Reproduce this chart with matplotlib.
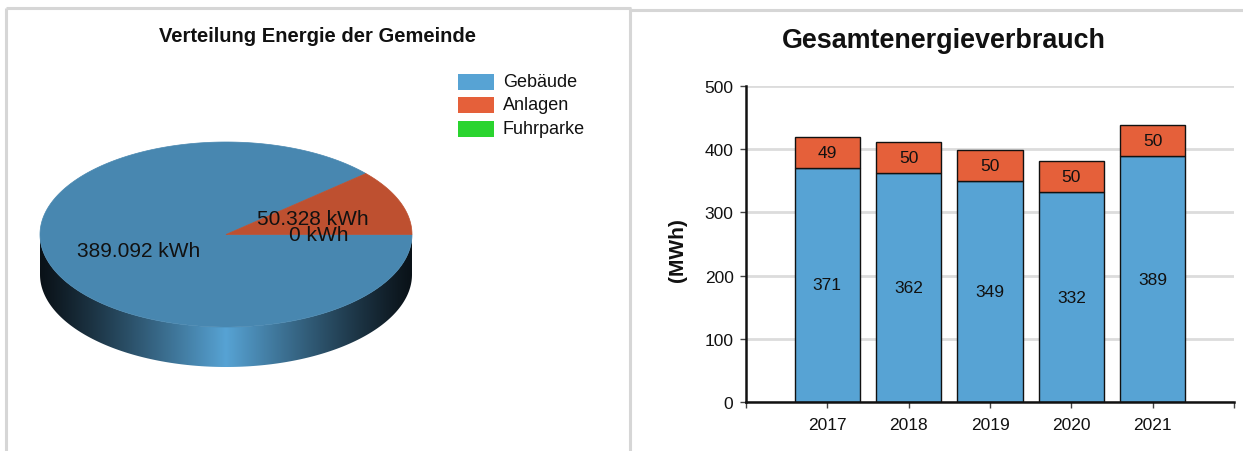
import numpy as np
import matplotlib
matplotlib.use("Agg")
import matplotlib.pyplot as plt
from matplotlib.patches import Polygon, Rectangle
from matplotlib.colors import to_rgb

# ---------------- data ----------------
pie_labels = ["Gebäude", "Anlagen", "Fuhrparke"]
pie_values = [389.092, 50.328, 0.0]
pie_texts = ["389.092 kWh", "50.328 kWh", "0 kWh"]
pie_colors = ["#57a3d4", "#e5603a", "#2ad42f"]

years = ["2017", "2018", "2019", "2020", "2021"]
gebaeude = [371, 362, 349, 332, 389]
anlagen = [49, 50, 50, 50, 50]

W, H = 1243, 452
plt.rcParams['font.family'] = ['Liberation Sans', 'DejaVu Sans']
fig = plt.figure(figsize=(W / 100, H / 100), dpi=100)

# overlay axes in pixel coordinates
ov = fig.add_axes([0, 0, 1, 1])
ov.set_xlim(0, W)
ov.set_ylim(H, 0)
ov.axis('off')

# panel borders
bc = '#d6d6d6'
ov.plot([6, 6], [9, H], color=bc, lw=2.2, solid_capstyle='butt')
ov.plot([6, 631], [9, 9], color=bc, lw=2.2, solid_capstyle='butt')
ov.plot([630.5, 630.5], [9, H], color=bc, lw=2.2, solid_capstyle='butt')
ov.plot([631, W], [10.5, 10.5], color=bc, lw=2.2, solid_capstyle='butt')

# ---------------- 3D pie ----------------
CX, CY, RX, RY, DEPTH = 226, 235.5, 186, 92.5, 40
dark = np.array(to_rgb('#0a1218'))

def ell(t, dy=0.0):
    return CX + RX * np.cos(t), CY - RY * np.sin(t) + dy

total = sum(pie_values)
angles = [0.0]
for v in pie_values:
    angles.append(angles[-1] - 360.0 * v / total)

# sides
for i, c in enumerate(pie_colors):
    a1, a2 = angles[i], angles[i + 1]
    lo, hi = min(a1, a2), max(a1, a2)
    if hi - lo <= 0:
        continue
    base = np.array(to_rgb(c))
    for k in (-1, 0, 1):
        s, e = max(lo, -180 + 360 * k), min(hi, 360 * k)
        if e <= s:
            continue
        t = np.radians(np.linspace(s, e, 200))
        xt, yt = ell(t)
        xb, yb = ell(t[::-1], DEPTH)
        poly = Polygon(np.column_stack([np.r_[xt, xb], np.r_[yt, yb]]),
                       closed=True, facecolor='none', edgecolor='none')
        ov.add_patch(poly)
        u = np.linspace(-1, 1, 600)
        f = np.clip(1 - np.abs(u), 0, 1) ** 1.15
        img = dark[None, :] + (base - dark)[None, :] * f[:, None]
        im = ov.imshow(img[None, :, :], extent=[CX - RX, CX + RX, CY + RY + DEPTH, CY],
                       aspect='auto', interpolation='bilinear', zorder=1)
        im.set_clip_path(poly)

# tops
for i, c in enumerate(pie_colors):
    a1, a2 = angles[i], angles[i + 1]
    if a1 == a2:
        continue
    t = np.radians(np.linspace(a1, a2, 300))
    x, y = ell(t)
    top = np.array(to_rgb(c)) * 0.83
    ov.add_patch(Polygon(np.column_stack([np.r_[CX, x], np.r_[CY, y]]), closed=True,
                         facecolor=top, edgecolor=top, lw=0.5, zorder=2))

# labels
for i, txt in enumerate(pie_texts):
    mid = np.radians((angles[i] + angles[i + 1]) / 2)
    x = CX + 0.5 * RX * np.cos(mid)
    y = CY - 0.5 * RY * np.sin(mid)
    ov.text(x, y, txt, fontsize=15, ha='center', va='center', color='#111111', zorder=3)

# title + legend
ov.text(318, 37, "Verteilung Energie der Gemeinde", fontsize=14.5, fontweight='bold',
        ha='center', va='center', color='#111111')
for i, (lab, c) in enumerate(zip(pie_labels, pie_colors)):
    yc = 82.5 + 23.5 * i
    ov.add_patch(Rectangle((458, yc - 8), 36, 16, facecolor=c, edgecolor='none'))
    ov.text(503, yc, lab, fontsize=13, ha='left', va='center', color='#111111')

# ---------------- stacked bars ----------------
left, right, top_px, bot_px = 746, 1234, 87, 403
ax = fig.add_axes([left / W, (H - bot_px) / H, (right - left) / W, (bot_px - top_px) / H])
x = np.arange(len(years))
ax.bar(x, gebaeude, width=0.8, color='#57a3d4', edgecolor='#111111', lw=1, zorder=2)
ax.bar(x, anlagen, width=0.8, bottom=gebaeude, color='#e5603a', edgecolor='#111111', lw=1, zorder=2)
for xi, g, a in zip(x, gebaeude, anlagen):
    ax.text(xi, g / 2, str(g), ha='center', va='center', fontsize=12.5, color='#111111', zorder=3)
    ax.text(xi, g + a / 2, str(a), ha='center', va='center', fontsize=12.5, color='#111111', zorder=3)

ax.set_xlim(-1, 5)
ax.set_ylim(0, 500)
ax.set_yticks(range(0, 501, 100))
ax.set_xticks(np.arange(-1, 6))
ax.set_xticklabels([''] + years + [''])
ax.yaxis.grid(True, color='#dcdcdc', lw=2)
ax.set_axisbelow(True)
for s in ('top', 'right'):
    ax.spines[s].set_visible(False)
for s in ('left', 'bottom'):
    ax.spines[s].set_linewidth(1.8)
    ax.spines[s].set_color('#111111')
ax.tick_params(axis='both', direction='out', length=4, width=1, color='#444444',
               labelsize=12.5, labelcolor='#111111')
ax.tick_params(axis='y', pad=5)
ax.tick_params(axis='x', pad=7)
ax.set_facecolor('none')

fig.text(944 / W, 1 - 41 / H, "Gesamtenergieverbrauch", fontsize=19.4, fontweight='bold',
         ha='center', va='center', color='#111111')
fig.text(677 / W, 1 - 250 / H, "(MWh)", fontsize=15, fontweight='bold', rotation=90,
         ha='center', va='center', color='#111111')

fig.savefig("out.png", dpi=100)
